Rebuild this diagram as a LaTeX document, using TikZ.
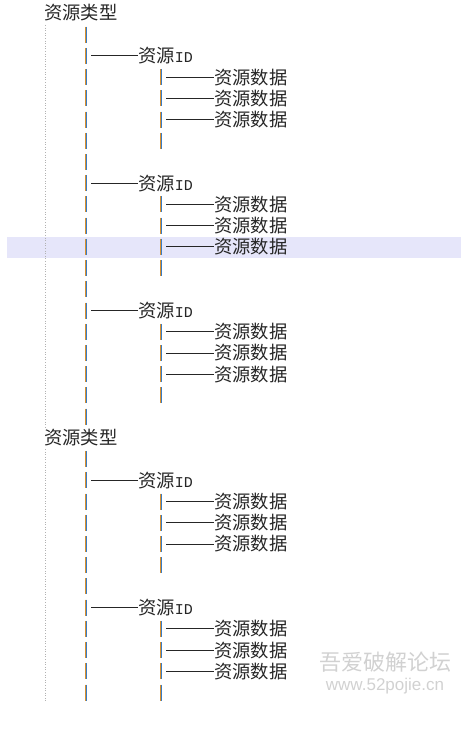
\documentclass[tikz,border=0pt]{standalone}
\usepackage{fontspec}
\newfontfamily\cjk{Noto Sans CJK SC}
\newfontfamily\mono{Liberation Mono}
\newfontfamily\wmfont{Liberation Sans}
\usetikzlibrary{positioning}
\definecolor{barblue}{HTML}{3A7CC4}
\definecolor{barorange}{HTML}{D9902E}
\definecolor{rowhl}{HTML}{E6E6FA}

% one piece of a vertical bar at column #1, row #2
\newcommand{\barpiece}[2]{%
  \draw[barblue, line width=2bp] (#1,{13.5+21.22*(#2)-8}) -- (#1,{13.5+21.22*(#2)+8});
  \draw[barorange, line width=0.7bp] (#1-0.9,{13.5+21.22*(#2)-8}) -- (#1-0.9,{13.5+21.22*(#2)+8});}

\begin{document}
\begin{tikzpicture}[x=1bp, y=-1bp,
    treetext/.style={anchor=west, inner sep=0pt, text=black!85, font=\cjk\fontsize{18.3bp}{20bp}\selectfont},
    dashline/.style={line width=0.9bp, black!85},
    guide/.style={dotted, gray!60, line width=0.6bp}]
    \useasboundingbox (0,0) rectangle (466,733);

    % highlighted row
    \fill[rowhl] (7,237) rectangle (461,258);

    % dotted guide on the left
    \draw[guide] (45,25) -- (45,427);
    \draw[guide] (45,449) -- (45,703);

    % the two resource types
    \node[treetext] (typeA) at (44,13) {资源类型};
    \node[treetext] (typeB) at (44,{13.5+21.22*20}) {资源类型};

    % outer bar
    \foreach \r in {1,...,19} {\barpiece{86}{\r}}
    \foreach \r in {21,...,32} {\barpiece{86}{\r}}

    % resource IDs and their data
    \foreach \g/\r in {a/2, b/8, c/14, d/22, e/28} {
        \coordinate (stem\g) at (91,{13.5+21.22*\r});
        \node[treetext] (id\g) at (138,{13.5+21.22*\r}) {资源{\mono\fontsize{15bp}{20bp}\selectfont ID}};
        \draw[dashline] (stem\g) -- (id\g);
        \foreach \k in {1,2,3} {
            \coordinate (leaf\g\k) at (166,{13.5+21.22*(\r+\k)});
            \node[treetext] (data\g\k) at (214,{13.5+21.22*(\r+\k)}) {资源数据};
            \draw[dashline] (leaf\g\k) -- (data\g\k);
        }
        \foreach \k in {1,...,4} {\barpiece{161}{\r+\k}}
    }

    % watermark
    \node[font=\cjk\fontsize{22bp}{24bp}\selectfont, text=black!18] (wmtitle) at (385,662) {吾爱破解论坛};
    \node[font=\wmfont\fontsize{17bp}{20bp}\selectfont, text=black!18] (wmurl) at (385,686) {www.52pojie.cn};
\end{tikzpicture}
\end{document}
